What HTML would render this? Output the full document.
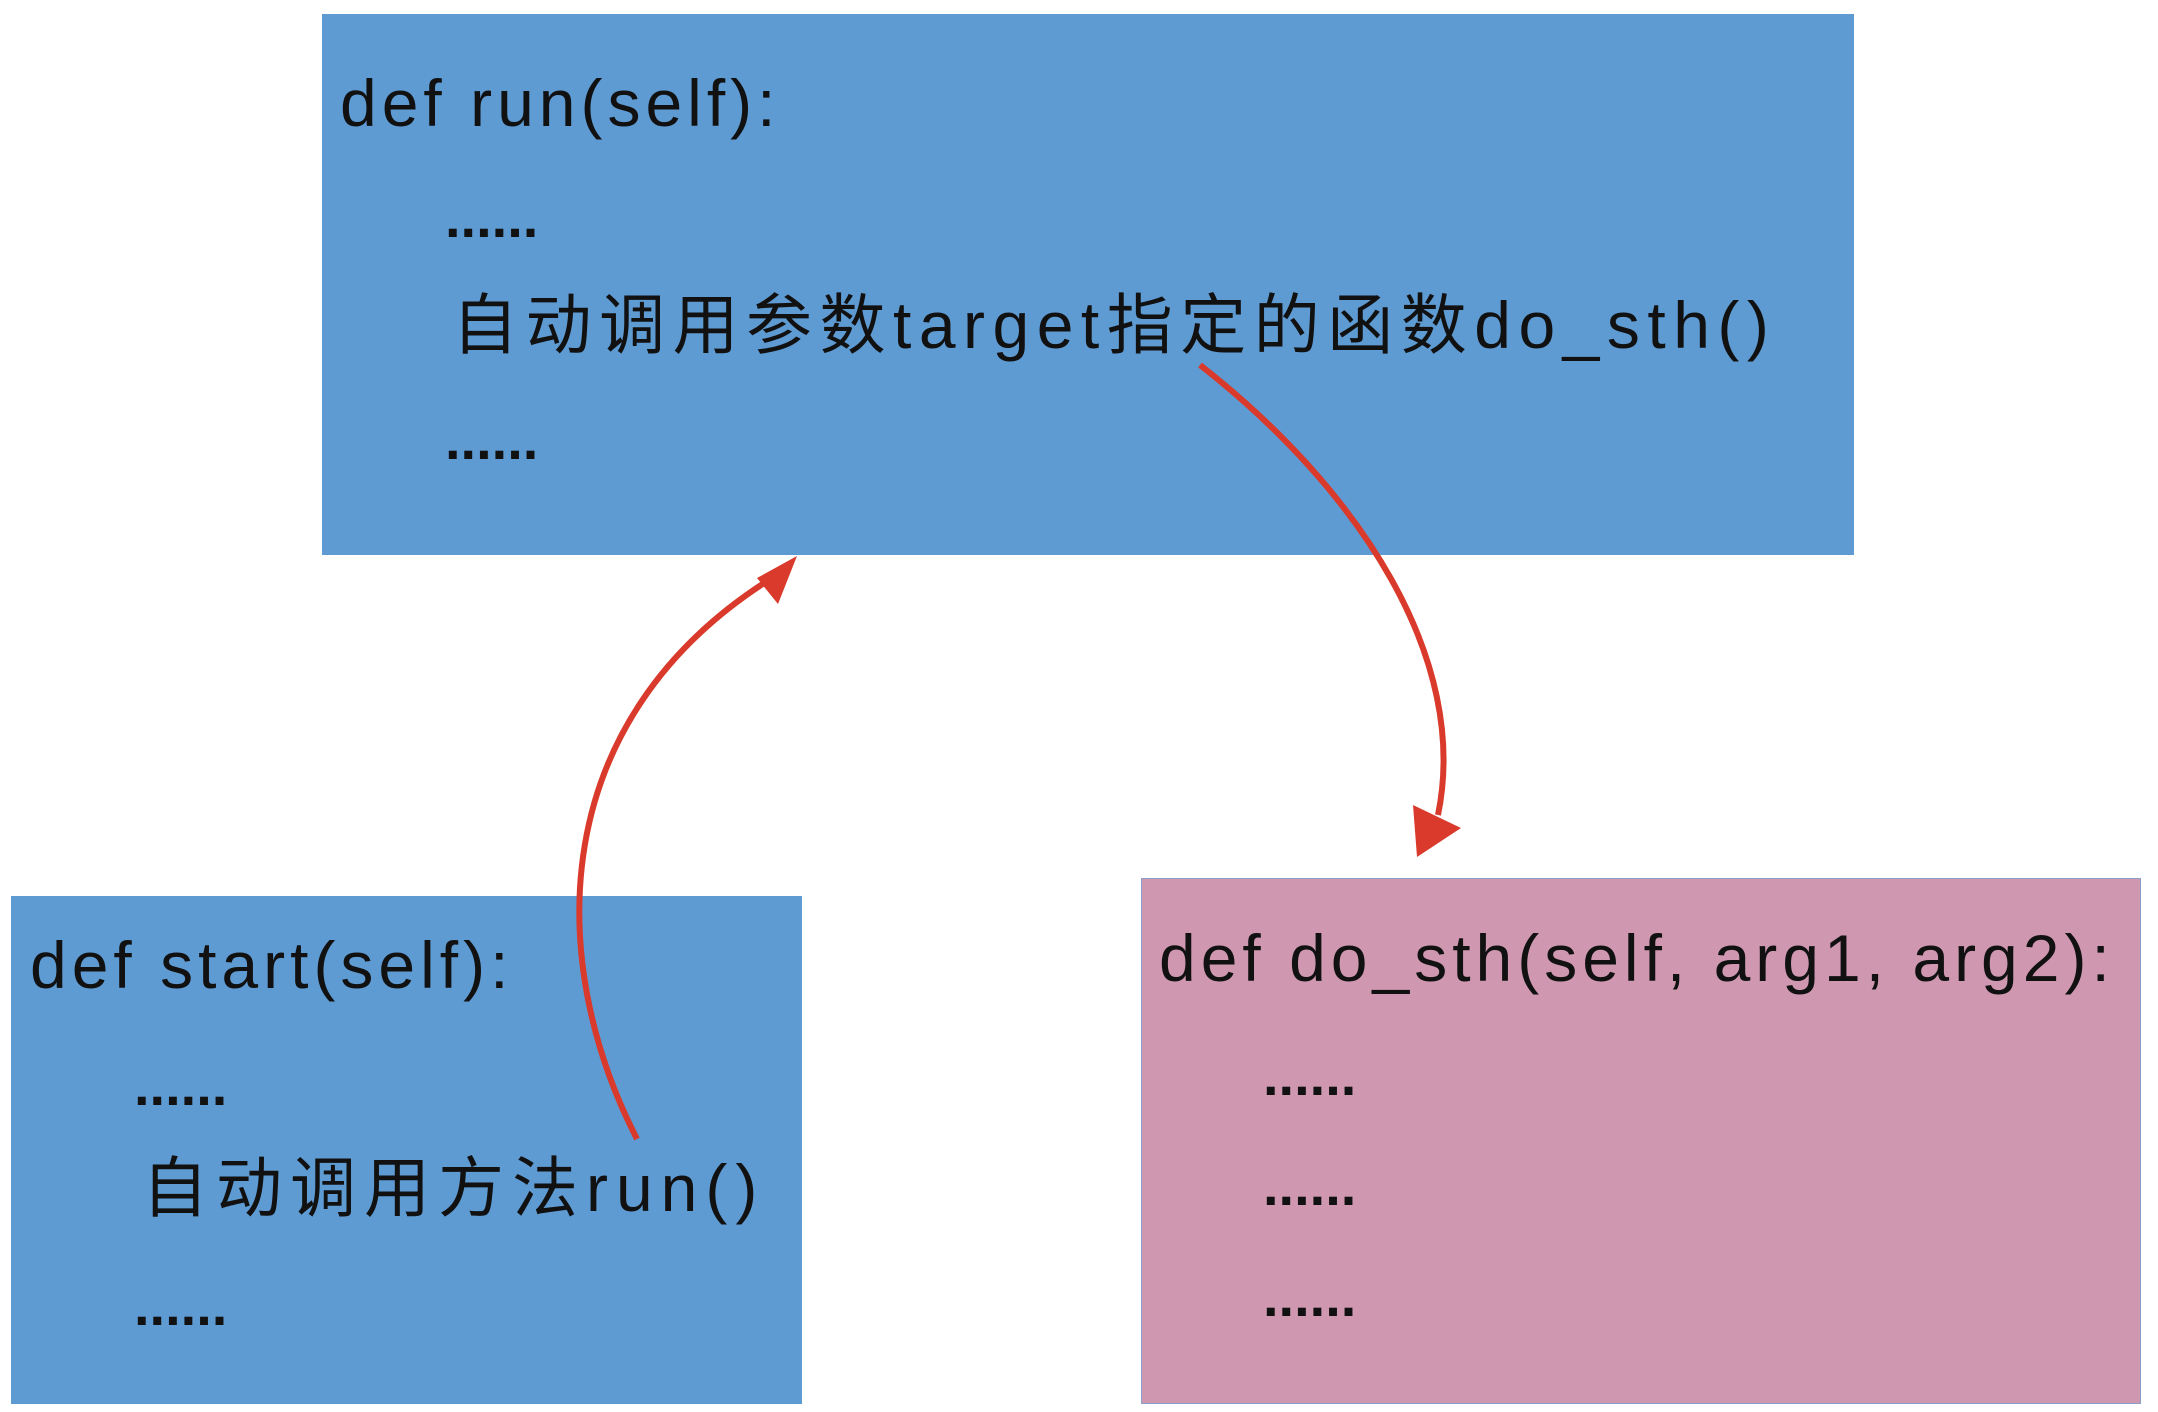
<!DOCTYPE html>
<html><head><meta charset="utf-8"><style>
html,body{margin:0;padding:0;background:#fff;}
body{width:2158px;height:1412px;position:relative;overflow:hidden;font-family:"Liberation Sans","Noto Sans CJK SC",sans-serif;color:#111;}
.box{position:absolute;}
.t{position:absolute;white-space:nowrap;font-size:66px;line-height:1;letter-spacing:5px;}
.d{font-weight:bold;letter-spacing:0;font-size:56px;}
</style></head><body>
<div class="box" style="left:322px;top:14px;width:1532px;height:541px;background:#5f9bd3"></div>
<div class="box" style="left:11px;top:896px;width:791px;height:508px;background:#5f9bd3"></div>
<div class="box" style="left:1141px;top:878px;width:1000px;height:526px;background:#cf98b0;border:1px solid #8aa0c8;box-sizing:border-box"></div>

<div class="t" style="left:340px;top:70px">def run(self):</div>
<div class="t d" style="left:445px;top:190px">......</div>
<div class="t" style="left:452px;top:292px;letter-spacing:7.5px">自动调用参数target指定的函数do_sth()</div>
<div class="t d" style="left:445px;top:412px">......</div>

<div class="t" style="left:30px;top:932px">def start(self):</div>
<div class="t d" style="left:134px;top:1058px">......</div>
<div class="t" style="left:142px;top:1155px;letter-spacing:8px">自动调用方法run()</div>
<div class="t d" style="left:134px;top:1278px">......</div>

<div class="t" style="left:1159px;top:925px">def do_sth(self, arg1, arg2):</div>
<div class="t d" style="left:1263px;top:1048px">......</div>
<div class="t d" style="left:1263px;top:1158px">......</div>
<div class="t d" style="left:1263px;top:1269px">......</div>

<svg width="2158" height="1412" style="position:absolute;left:0;top:0">
<path d="M637,1139 C545,960 545,720 772,578" fill="none" stroke="#d93a2b" stroke-width="6"/>
<polygon points="797,556 757,578 778,604" fill="#d93a2b"/>
<path d="M1200,365 C1360,490 1470,660 1438,815" fill="none" stroke="#d93a2b" stroke-width="6"/>
<polygon points="1417,857 1413,805 1461,828" fill="#d93a2b"/>
</svg>
</body></html>
